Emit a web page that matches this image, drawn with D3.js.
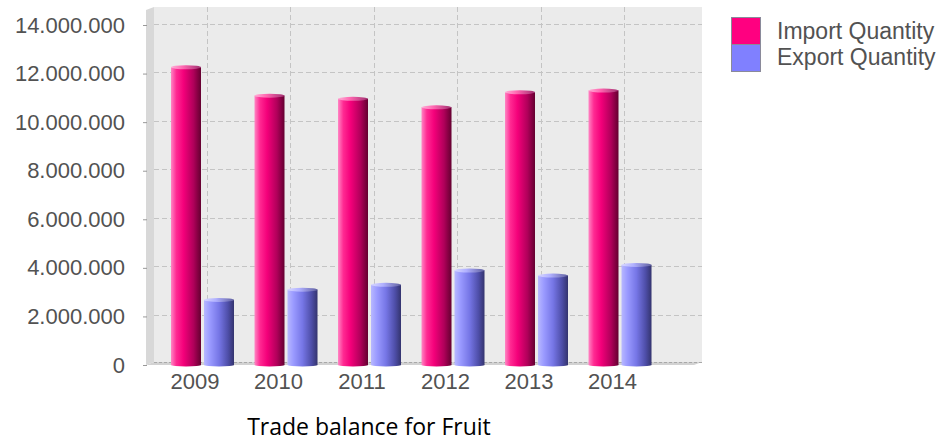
<!DOCTYPE html>
<html>
<head>
<meta charset="utf-8">
<script src="https://cdn.jsdelivr.net/npm/d3@7"></script>
<style>
  html, body { margin: 0; padding: 0; background: #ffffff; }
  svg { display: block; }
</style>
</head>
<body>
<svg id="chart" width="939" height="441"></svg>
<script>
// ---- data ----
const categories = ["2009", "2010", "2011", "2012", "2013", "2014"];
const importQty = [12240000, 11070000, 10940000, 10590000, 11210000, 11280000];
const exportQty = [2660000, 3080000, 3280000, 3870000, 3660000, 4100000];
const seriesNames = ["Import Quantity", "Export Quantity"];
const yTicks = [0, 2000000, 4000000, 6000000, 8000000, 10000000, 12000000, 14000000];
const titleText = "Trade balance for Fruit";

// ---- layout ----
const svg = d3.select("#chart");
const DX = 8, DY = 3;               // 3D depth offset
const frontLeft = 146, frontBase = 365;
const backRight = 702, backTop = 7;

const x = d3.scalePoint().domain(categories).range([194.5, 612]);
const y = d3.scaleLinear().domain([0, 14000000]).range([365, 25]);

const locale = d3.formatLocale({decimal: ",", thousands: ".", grouping: [3], currency: ["", ""]});
const fmt = locale.format(",d");
const textColor = "#525252";

const defs = svg.append("defs");
function hGrad(id, stops) {
  const g = defs.append("linearGradient").attr("id", id)
    .attr("x1", "0%").attr("x2", "100%").attr("y1", "0%").attr("y2", "0%");
  stops.forEach(s => g.append("stop").attr("offset", s[0]).attr("stop-color", s[1]));
}
hGrad("gPink", [["0%", "#ff86c4"], ["18%", "#ff2a92"], ["42%", "#f4007a"], ["75%", "#b0005a"], ["100%", "#640030"]]);
hGrad("gPinkTop", [["0%", "#ffb0d8"], ["40%", "#ff66b0"], ["100%", "#a03070"]]);
hGrad("gBlue", [["0%", "#b8b8ff"], ["20%", "#9a9aff"], ["50%", "#7676e6"], ["80%", "#4e4ea8"], ["100%", "#34346e"]]);
hGrad("gBlueTop", [["0%", "#d8d8ff"], ["40%", "#b0b0ff"], ["100%", "#6060a0"]]);

// ---- plot background, wall, floor ----
svg.append("rect")
  .attr("x", frontLeft + DX).attr("y", backTop)
  .attr("width", backRight - frontLeft - DX).attr("height", frontBase - DY - backTop)
  .attr("fill", "#ebebeb");

svg.append("polygon")
  .attr("points", [[frontLeft, backTop + DY], [frontLeft + DX, backTop], [frontLeft + DX, frontBase - DY], [frontLeft, frontBase]].join(" "))
  .attr("fill", "#d8d8d8");

svg.append("polygon")
  .attr("points", [[frontLeft, frontBase], [frontLeft + DX, frontBase - DY], [backRight, frontBase - DY], [backRight - DX, frontBase]].join(" "))
  .attr("fill", "#d2d2d2");
svg.append("line")
  .attr("x1", frontLeft + DX).attr("x2", backRight)
  .attr("y1", frontBase - DY + 0.5).attr("y2", frontBase - DY + 0.5)
  .attr("stroke", "#a8a8a8").attr("stroke-dasharray", "3,2");

// ---- gridlines ----
svg.append("g").selectAll("line")
  .data(yTicks.filter(v => v > 0))
  .join("line")
  .attr("x1", frontLeft + DX).attr("x2", backRight)
  .attr("y1", d => Math.round(y(d) - 1.5) + 0.5).attr("y2", d => Math.round(y(d) - 1.5) + 0.5)
  .attr("stroke", "#c4c4c4").attr("stroke-dasharray", "5,3");

svg.append("g").selectAll("line")
  .data(categories)
  .join("line")
  .attr("x1", d => Math.round(x(d) + 12) + 0.5).attr("x2", d => Math.round(x(d) + 12) + 0.5)
  .attr("y1", backTop).attr("y2", frontBase - DY)
  .attr("stroke", "#c4c4c4").attr("stroke-dasharray", "5,3");

// ---- axes ----
const yAxis = svg.append("g")
  .attr("transform", `translate(${frontLeft + 1},0)`)
  .call(d3.axisLeft(y).tickValues(yTicks).tickFormat(fmt).tickSize(4).tickPadding(18));
yAxis.select(".domain").remove();
yAxis.selectAll(".tick line").attr("stroke", "#999");
yAxis.selectAll(".tick text")
  .attr("fill", textColor)
  .style("font-family", "'Liberation Sans', Arial, sans-serif")
  .style("font-size", "22px");

const xAxis = svg.append("g")
  .attr("transform", `translate(0,${frontBase})`)
  .call(d3.axisBottom(x).tickSize(0).tickPadding(8));
xAxis.select(".domain").remove();
xAxis.selectAll(".tick text")
  .attr("fill", textColor)
  .style("font-family", "'Liberation Sans', Arial, sans-serif")
  .style("font-size", "22px");

// ---- bars ----
const barW = 30;
const series = [
  {name: seriesNames[0], values: importQty, grad: "gPink", top: "gPinkTop", off: -31.5 + 8},
  {name: seriesNames[1], values: exportQty, grad: "gBlue", top: "gBlueTop", off: 1.5 + 8}
];
series.forEach(s => {
  const g = svg.append("g");
  const data = categories.map((c, i) => ({c, v: s.values[i]}));
  g.selectAll("rect")
    .data(data)
    .join("rect")
    .attr("x", d => x(d.c) + s.off)
    .attr("y", d => y(d.v) - 0.5)
    .attr("width", barW)
    .attr("height", d => frontBase - (y(d.v) - 0.5))
    .attr("fill", `url(#${s.grad})`);
  g.selectAll("ellipse.bot")
    .data(data)
    .join("ellipse")
    .attr("class", "bot")
    .attr("cx", d => x(d.c) + s.off + barW / 2)
    .attr("cy", frontBase)
    .attr("rx", barW / 2).attr("ry", 1.5)
    .attr("fill", `url(#${s.grad})`);
  g.selectAll("ellipse.top")
    .data(data)
    .join("ellipse")
    .attr("class", "top")
    .attr("cx", d => x(d.c) + s.off + barW / 2)
    .attr("cy", d => y(d.v) - 0.5)
    .attr("rx", barW / 2).attr("ry", 2)
    .attr("fill", `url(#${s.top})`);
});

// ---- legend ----
const legend = svg.append("g");
const legColors = ["#ff0080", "#8080ff"];
seriesNames.forEach((n, i) => {
  legend.append("rect")
    .attr("x", 731.5).attr("y", 17.5 + i * 27)
    .attr("width", 29).attr("height", 27)
    .attr("fill", legColors[i]).attr("stroke", "#8a8a9a").attr("stroke-width", 1);
  legend.append("text")
    .attr("x", 777).attr("y", 39 + i * 26)
    .attr("fill", textColor)
    .style("font-family", "'Liberation Sans', Arial, sans-serif")
    .style("font-size", "23px")
    .text(n);
});

// ---- title ----
svg.append("text")
  .attr("x", 369).attr("y", 435)
  .attr("text-anchor", "middle")
  .attr("fill", "#000")
  .style("font-family", "'Open Sans', 'Noto Sans', sans-serif")
  .style("font-size", "23px")
  .text(titleText);
</script>
</body>
</html>
